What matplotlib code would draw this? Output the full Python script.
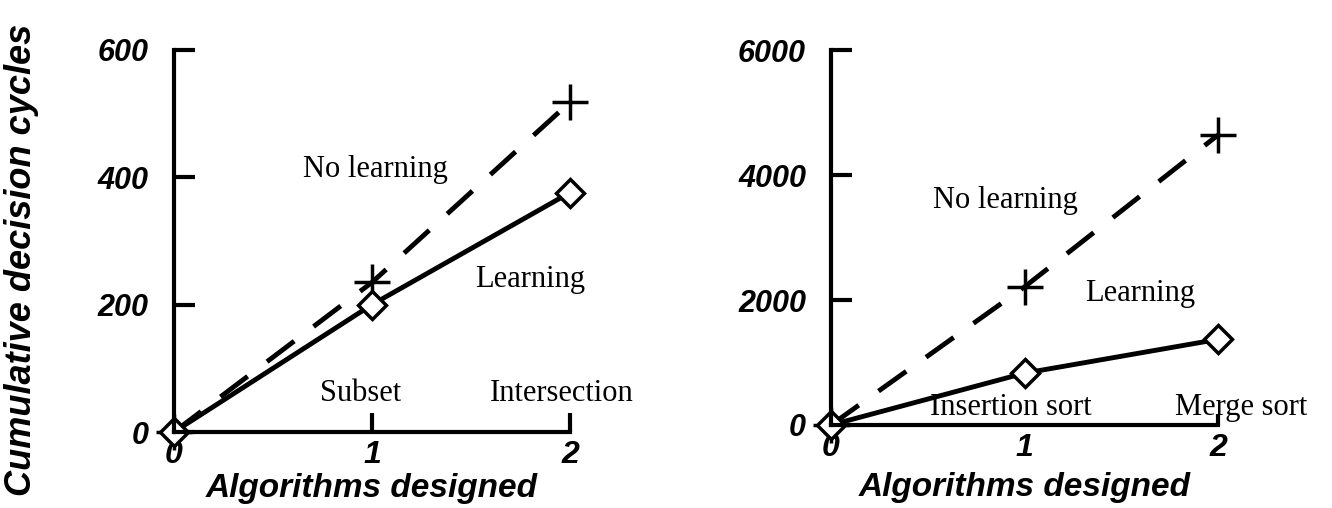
import matplotlib.pyplot as plt

# data
x_vals = [0, 1, 2]
left_no_learning = [0, 235, 518]
left_learning = [0, 200, 376]
right_no_learning = [0, 2210, 4640]
right_learning = [0, 830, 1370]
left_tasks = ["Subset", "Intersection"]
right_tasks = ["Insertion sort", "Merge sort"]
left_yticks = [0, 200, 400, 600]
right_yticks = [0, 2000, 4000, 6000]

sans = "Liberation Sans"
serif = "Liberation Serif"

fig = plt.figure(figsize=(13.32, 5.08), dpi=100)
ax1 = fig.add_axes([0.1306, 0.1496, 0.2973, 0.752])
ax2 = fig.add_axes([0.6239, 0.1634, 0.2905, 0.738])


def style_axes(ax, yticks, ymax, xtick_lens, xlab_y):
    ax.set_xlim(0, 2)
    ax.set_ylim(0, ymax)
    for s in ["top", "right"]:
        ax.spines[s].set_visible(False)
    for s in ["left", "bottom"]:
        ax.spines[s].set_linewidth(3)
    ax.set_xticks(x_vals)
    ax.set_yticks(yticks)
    ax.set_xticklabels([str(v) for v in x_vals], fontfamily=sans,
                       fontweight="bold", fontstyle="italic", fontsize=23)
    ax.set_yticklabels([str(v) for v in yticks], fontfamily=sans,
                       fontweight="bold", fontstyle="italic", fontsize=22)
    ax.tick_params(axis="y", direction="in", length=15, width=3, pad=18)
    ax.tick_params(axis="x", direction="in", length=14, width=3, pad=6)
    for t, ln in zip(ax.xaxis.get_major_ticks(), xtick_lens):
        t.tick1line.set_markersize(ln)
    ax.set_xlabel("Algorithms designed", fontfamily=sans, fontweight="bold",
                  fontstyle="italic", fontsize=24, va="center")
    ax.xaxis.set_label_coords(0.5, xlab_y)


def draw(ax, no_learn, learn):
    ax.plot(x_vals, no_learn, color="black", lw=3.5, linestyle=(0, (7, 5)),
            marker="+", markersize=26, markeredgewidth=2.5, clip_on=False)
    ax.plot(x_vals, learn, color="black", lw=3.5, marker="D", markersize=14,
            markerfacecolor="white", markeredgewidth=2.5, clip_on=False)


draw(ax1, left_no_learning, left_learning)
draw(ax2, right_no_learning, right_learning)
style_axes(ax1, left_yticks, 600, [0, 14, 14], -0.148)
style_axes(ax2, right_yticks, 6000, [0, 0, 8], -0.168)

ax1.set_ylabel("Cumulative decision cycles", fontfamily=sans, fontweight="bold",
               fontstyle="italic", fontsize=26, va="center")
ax1.yaxis.set_label_coords(-0.385, 0.45)

txt = dict(fontfamily=serif, fontsize=22, ha="center", va="center")
ax1.text(1.02, 412, "No learning", **txt)
ax1.text(1.80, 239, "Learning", **txt)
ax1.text(0.94, 60, left_tasks[0], **txt)
ax1.text(1.96, 60, left_tasks[1], **txt)

ax2.text(0.90, 3600, "No learning", **txt)
ax2.text(1.60, 2110, "Learning", **txt)
ax2.text(0.93, 280, right_tasks[0], **txt)
ax2.text(2.12, 280, right_tasks[1], **txt)

fig.savefig("out.png", dpi=100)
